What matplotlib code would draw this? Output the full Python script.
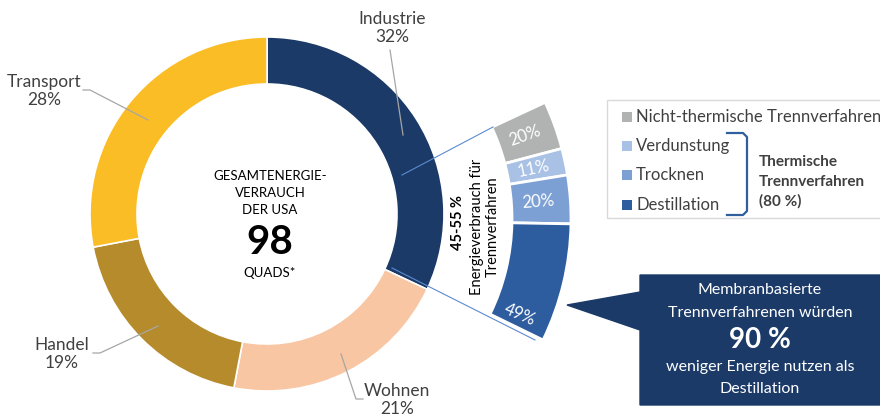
import matplotlib.pyplot as plt
from matplotlib.patches import Polygon, Rectangle
import numpy as np

plt.rcParams['font.family'] = ['Lato', 'DejaVu Sans']

W, H = 880, 418

# US energy use by sector (donut)
sectors = ['Industrie', 'Wohnen', 'Handel', 'Transport']
shares = [32, 21, 19, 28]
sector_colors = ['#1B3A68', '#F8C6A2', '#B68B2B', '#FBBD26']

# energy use for separation processes (fan)
sep_labels = ['Nicht-thermische Trennverfahren', 'Verdunstung', 'Trocknen', 'Destillation']
sep_shares = [20, 11, 20, 49]
sep_colors = ['#B1B3B3', '#A8C1E4', '#7DA0D4', '#2D5D9F']

total_quads = 98
sep_range = '45-55 %'
thermal_share = 80
membrane_saving = 90

txt = '#404040'


def Y(y):
    # pixel row (from top) -> data y
    return H - y


fig = plt.figure(figsize=(W / 100, H / 100), dpi=100)
ax = fig.add_axes([0, 0, 1, 1])

# main donut
ax.pie(shares, colors=sector_colors, startangle=90, counterclock=False,
       radius=177, center=(267, Y(214)),
       wedgeprops=dict(width=47, edgecolor='white', linewidth=1.2))

# zoom lines from Industrie to the fan
ax.plot([402, 493], [Y(175), Y(127)], color='#5B8BD0', lw=0.8, zorder=3)
ax.plot([392, 535], [Y(268), Y(340)], color='#5B8BD0', lw=0.8, zorder=3)

# fan of separation processes (only 51 degrees of a circle)
fan_span = 51
fan_start = 25
fan_center = (295, Y(219))
rest = sum(sep_shares) * (360 - fan_span) / fan_span
wedges, _ = ax.pie(sep_shares + [rest], colors=sep_colors + ['none'],
                   startangle=fan_start, counterclock=False,
                   radius=276, center=fan_center,
                   wedgeprops=dict(width=59, edgecolor='white', linewidth=2))
wedges[-1].set_visible(False)

label_frac = [0.5, 0.5, 0.5, 0.88]
cum = 0
for val, frac in zip(sep_shares, label_frac):
    seg = val / 100 * fan_span
    ang = fan_start - cum - frac * seg
    cum += seg
    r = 244
    x = fan_center[0] + r * np.cos(np.radians(ang))
    y = fan_center[1] + r * np.sin(np.radians(ang))
    ax.text(x, y, f'{val}%', color='white', fontsize=12, rotation=ang,
            ha='center', va='center', rotation_mode='anchor', zorder=5)

ax.set_xlim(0, W)
ax.set_ylim(0, H)
ax.set_aspect('equal')
ax.axis('off')

# center text
for s, yy in zip(['GESAMTENERGIE-', 'VERRAUCH', 'DER USA'], [176, 193, 210]):
    ax.text(270, Y(yy), s, ha='center', va='center', fontsize=9.5, color='black')
ax.text(270, Y(242), str(total_quads), ha='center', va='center', fontsize=29,
        fontweight='bold', color='black')
ax.text(270, Y(273), 'QUADS*', ha='center', va='center', fontsize=9.5, color='black')

# sector labels with leader lines
label_xy = [(392, 28), (397, 400), (62, 354), (44, 91)]
leaders = [[(390, 50), (403, 135)],
           [(341, 354), (356, 399), (363, 399)],
           [(93, 353), (100, 353), (158, 326)],
           [(83, 90), (90, 90), (148, 120)]]
for name, val, (lx, ly), pts in zip(sectors, shares, label_xy, leaders):
    ax.text(lx, Y(ly), f'{name}\n{val}%', ha='center', va='center',
            fontsize=12.5, color=txt, linespacing=1.15)
    px, py = zip(*pts)
    ax.plot(px, [Y(v) for v in py], color='#A6A6A6', lw=0.9)

# rotated text inside the fan gap
ax.text(458, Y(223), sep_range, rotation=90, ha='center', va='center',
        fontsize=10.5, fontweight='bold', color='black')
ax.text(485, Y(227), 'Energieverbrauch für\nTrennverfahren', rotation=90,
        ha='center', va='center', fontsize=10.5, color='black', linespacing=1.1)

# legend box
ax.add_patch(Rectangle((607, Y(218)), 300, 118, fill=False, ec='#D9D9D9', lw=1))
for lab, col, ry in zip(sep_labels, sep_colors, [117, 146, 175, 205]):
    ax.scatter(627, Y(ry), marker='s', s=50, color=col, lw=0)
    ax.text(636, Y(ry), lab, ha='left', va='center', fontsize=12, color=txt)

# bracket for thermal processes
bx = [727, 743, 747, 747, 743, 727]
by = [133, 133, 137, 211, 215, 215]
ax.plot(bx, [Y(v) for v in by], color='#2F5F9E', lw=1.6)
for s, yy in zip(['Thermische', 'Trennverfahren', f'({thermal_share} %)'], [162, 182, 201]):
    ax.text(759, Y(yy), s, ha='left', va='center', fontsize=11,
            fontweight='bold', color=txt)

# callout
call = [(640, 275), (890, 275), (890, 405), (640, 405), (640, 330), (567, 305), (640, 292)]
ax.add_patch(Polygon([(x, Y(y)) for x, y in call], closed=True, color='#1B3A68', zorder=4))
for s, yy in zip(['Membranbasierte', 'Trennverfahrenen würden'], [290, 313]):
    ax.text(760, Y(yy), s, ha='center', va='center', fontsize=11.5, color='white', zorder=5)
ax.text(760, Y(340), f'{membrane_saving} %', ha='center', va='center', fontsize=20,
        fontweight='bold', color='white', zorder=5)
for s, yy in zip(['weniger Energie nutzen als', 'Destillation'], [367, 389]):
    ax.text(760, Y(yy), s, ha='center', va='center', fontsize=11.5, color='white', zorder=5)

fig.savefig('out.png', dpi=100)
